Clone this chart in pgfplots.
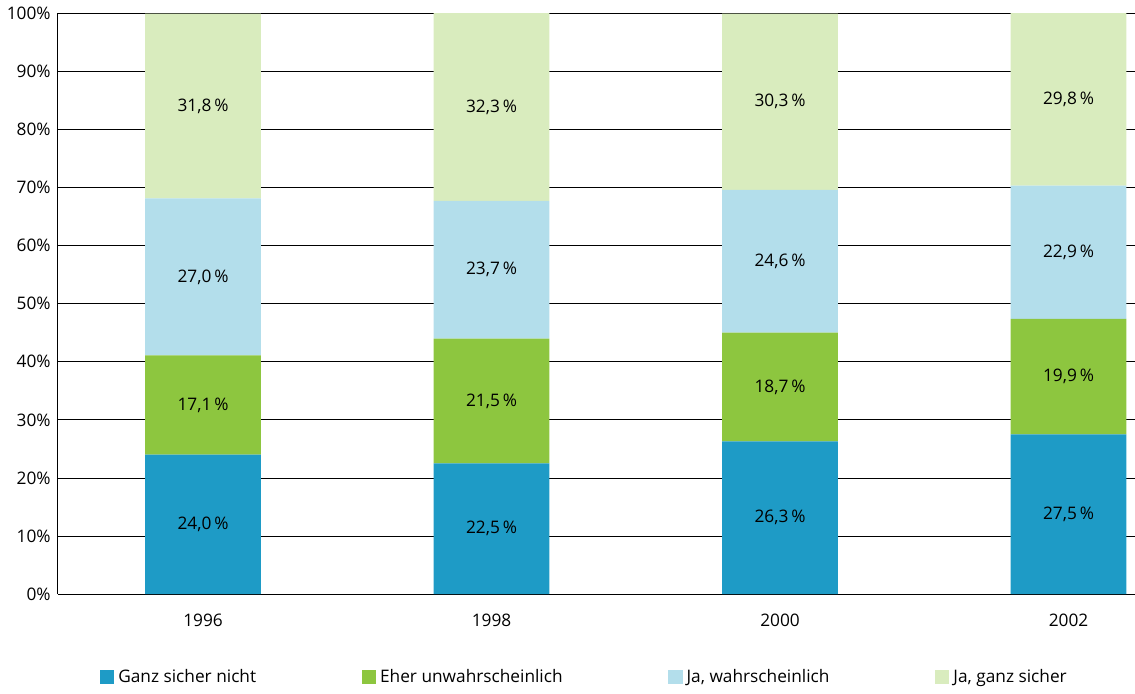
\documentclass[border=0pt]{standalone}
\usepackage{pgfplots}
\pgfplotsset{compat=1.18}
\usepackage{fontspec}
\setmainfont{Open Sans}
\definecolor{c1}{HTML}{1E9BC6}
\definecolor{c2}{HTML}{8DC63F}
\definecolor{c3}{HTML}{B3DEEB}
\definecolor{c4}{HTML}{D9ECBE}
\begin{document}
\begin{tikzpicture}
\begin{axis}[
  scale only axis, width=530pt, height=286pt,
  ybar stacked, bar width=57pt, clip=false,
  xmin=-0.5035, xmax=3.229, ymin=0, ymax=100,
  xtick={0,1,2,3}, xticklabels={1996,1998,2000,2002},
  ytick={0,10,...,100}, yticklabel={\pgfmathprintnumber{\tick}\%},
  /pgf/number format/assume math mode=true,
  ymajorgrids, grid style={black, line width=0.4pt},
  axis x line*=bottom, axis y line*=left,
  tick style={draw=none},
  tick label style={font=\fontsize{8.5}{9}\selectfont},
  xticklabel style={yshift=-6pt},
  axis line style={black, line width=0.4pt},
  legend style={at={(0.49,-0.115)}, anchor=north, draw=none, legend columns=4,
    font=\fontsize{8.5}{9}\selectfont, /tikz/every even column/.append style={column sep=50pt}},
  legend image code/.code={\fill[#1] (0pt,-3pt) rectangle (7pt,4pt);},
  visualization depends on={\thisrow{l} \as \v},
  nodes near coords={\pgfmathprintnumber[fixed,fixed zerofill,precision=1,use comma,assume math mode=true]{\v}\,\%},
  every node near coord/.append style={anchor=center, font=\fontsize{8.5}{9}\selectfont, black},
]
\addplot[fill=c1, draw=none] table[x=x,y=v] {
x v l
0 24.0 24.0
1 22.5 22.5
2 26.3 26.3
3 27.5 27.5
};
\addplot[fill=c2, draw=none] table[x=x,y=v] {
x v l
0 17.1 17.1
1 21.5 21.5
2 18.7 18.7
3 19.9 19.9
};
\addplot[fill=c3, draw=none] table[x=x,y=v] {
x v l
0 27.0 27.0
1 23.7 23.7
2 24.6 24.6
3 22.9 22.9
};
\addplot[fill=c4, draw=none] table[x=x,y=v] {
x v l
0 31.8 31.8
1 32.3 32.3
2 30.3 30.3
3 29.7 29.8
};
\legend{Ganz sicher nicht, Eher unwahrscheinlich, {Ja, wahrscheinlich}, {Ja, ganz sicher}}
\end{axis}
\end{tikzpicture}
\end{document}
